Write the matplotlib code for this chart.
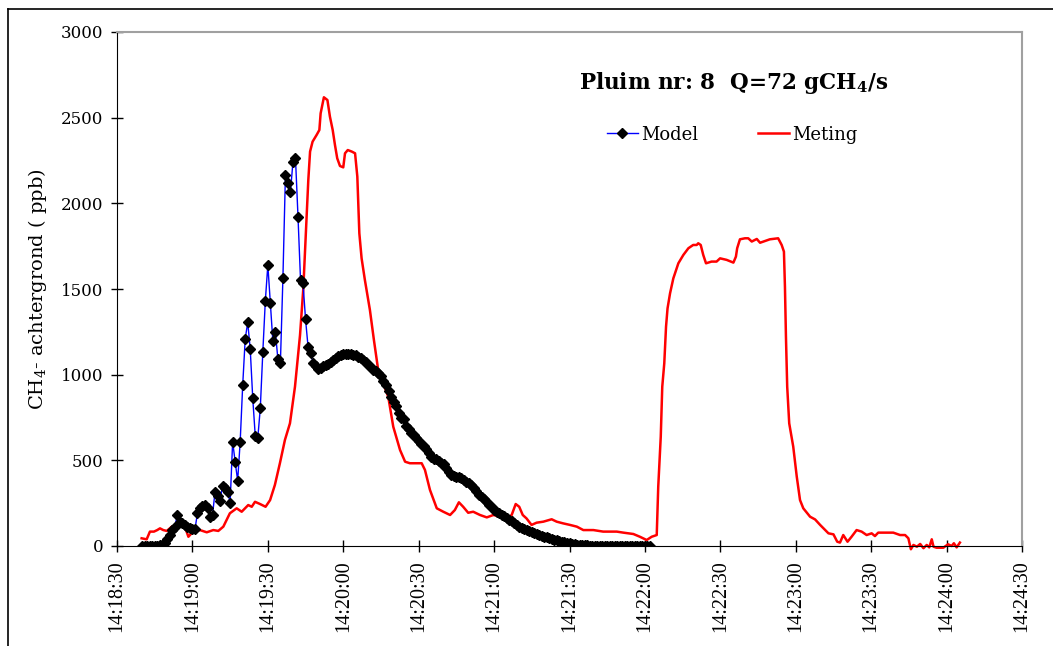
import matplotlib.pyplot as plt
from matplotlib.lines import Line2D
import numpy as np

plt.rcParams['mathtext.fontset'] = 'dejavuserif'

# seconds after 14:18:30
tick_secs = [0, 30, 60, 90, 120, 150, 180, 210, 240, 270, 300, 330, 360]
tick_labels = ['14:18:30', '14:19:00', '14:19:30', '14:20:00', '14:20:30', '14:21:00',
               '14:21:30', '14:22:00', '14:22:30', '14:23:00', '14:23:30', '14:24:00',
               '14:24:30']

# model: one value per second, starting 14:18:40
model_start = 10
model_vals = [
    0, 0, 0, 0, 0, 0, 0, 3, 5, 20,
    39, 64, 93, 113, 181, 142, 132, 121, 113, 107,
    100, 97, 191, 220, 233, 239, 220, 171, 181, 317,
    292, 263, 350, 337, 317, 253, 609, 492, 381, 609,
    938, 1208, 1306, 1148, 862, 642, 629, 804, 1131, 1430,
    1640, 1420, 1195, 1250, 1090, 1070, 1565, 2166, 2117, 2068,
    2243, 2263, 1922, 1553, 1533, 1323, 1163, 1125, 1070, 1050,
    1031, 1040, 1048, 1055, 1062, 1072, 1085, 1098, 1108, 1115,
    1118, 1120, 1120, 1118, 1115, 1112, 1105, 1095, 1085, 1072,
    1058, 1043, 1030, 1020, 1010, 995, 965, 940, 905, 870,
    842, 815, 778, 750, 740, 700, 680, 660, 645, 630,
    610, 598, 585, 565, 540, 520, 505, 505, 495, 485,
    478, 455, 430, 415, 410, 405, 400, 395, 385, 375,
    365, 355, 340, 320, 300, 288, 275, 258, 240, 225,
    212, 200, 192, 183, 178, 165, 152, 143, 135, 125,
    112, 104, 98, 92, 86, 80, 76, 72, 66, 60,
    55, 50, 45, 41, 37, 33, 29, 25, 22, 19,
    16, 13, 10, 8, 6, 5, 4, 3, 2, 1,
    1, 0, 0, 0, 0, 0, 0, 0, 0, 0,
    0, 0, 0, 0, 0, 0, 0, 0, 0, 0,
    0, 0, 0,
]

# measurement: seconds after 14:18:30 and ppb
meting_t = [
    9.8, 11.8, 13.1, 14.7, 16.0, 17.1, 18.4, 19.8, 21.8, 23.5,
    25.7, 27.0, 28.4, 30.3, 33.0, 35.7, 38.3, 40.3, 42.3, 44.9,
    47.6, 49.6, 52.2, 53.6, 54.9, 56.9, 59.1, 60.9, 62.8, 64.8,
    66.8, 68.8, 70.8, 72.8, 74.1, 75.2, 76.1, 76.8, 77.8, 79.4,
    80.5, 81.0, 82.3, 83.7, 84.7, 85.8, 86.7, 87.6, 88.7, 90.0,
    90.7, 91.8, 93.4, 94.7, 95.6, 96.4, 97.3, 98.6, 100.6, 102.2,
    103.9, 107.9, 109.9, 112.6, 114.6, 116.5, 119.2, 121.2, 122.5, 124.5,
    127.2, 129.8, 132.5, 134.4, 136.0, 137.7, 139.7, 141.7, 144.4, 147.1,
    149.7, 152.3, 155.0, 157.0, 158.6, 160.0, 161.4, 162.9, 164.9, 166.9,
    169.6, 172.9, 174.9, 177.5, 180.2, 182.9, 185.5, 189.5, 193.4, 198.8,
    201.4, 205.4, 208.0, 210.7, 212.7, 214.7, 215.3, 216.3, 216.9, 217.7,
    218.4, 219.0, 220.0, 221.3, 223.3, 225.3, 227.3, 229.2, 230.6, 231.2,
    232.2, 233.2, 234.3, 236.5, 238.5, 239.9, 242.5, 245.2, 246.2, 246.7,
    247.8, 249.8, 251.1, 252.5, 254.5, 255.8, 257.7, 259.7, 263.0, 264.4,
    265.3, 265.7, 266.1, 266.6, 267.4, 269.0, 270.4, 271.7, 273.0, 275.7,
    277.7, 279.7, 283.0, 285.0, 286.5, 287.6, 288.9, 290.6, 292.2, 294.2,
    296.2, 298.2, 300.2, 301.5, 302.8, 306.2, 308.8, 311.5, 313.5, 314.8,
    315.8, 316.8, 318.2, 319.5, 320.8, 322.1, 323.1, 324.1, 324.8, 326.0,
    328.7, 330.6, 332.0, 332.9, 334.0, 335.3,
]
meting_vals = [
    45, 39, 84, 84, 93, 103, 93, 88, 113, 93,
    148, 113, 54, 84, 93, 80, 93, 88, 113, 191,
    220, 200, 239, 229, 258, 245, 229, 268, 356, 483,
    619, 716, 930, 1230, 1500, 1844, 2136, 2302, 2360, 2399,
    2428, 2525, 2619, 2603, 2506, 2428, 2341, 2263, 2218, 2210,
    2292, 2311, 2302, 2292, 2156, 1825, 1679, 1553, 1378, 1202,
    1027, 871, 696, 560, 492, 483, 483, 483, 444, 327,
    220, 200, 181, 210, 255, 229, 194, 200, 181, 167,
    181, 171, 161, 181, 245, 229, 181, 161, 123, 136,
    142, 156, 142, 132, 123, 113, 93, 93, 84, 84,
    78, 70, 54, 35, 54, 64, 346, 638, 930, 1066,
    1280, 1387, 1475, 1562, 1650, 1699, 1738, 1757, 1757, 1767,
    1757, 1699, 1650, 1660, 1660, 1679, 1670, 1654, 1689, 1738,
    1790, 1796, 1796, 1777, 1792, 1770, 1780, 1790, 1796, 1757,
    1718, 1514, 1222, 930, 716, 580, 405, 268, 220, 171,
    155, 123, 74, 68, 25, 20, 64, 25, 54, 93,
    84, 64, 74, 58, 78, 78, 78, 64, 64, 45,
    -19, 6, -4, 12, -13, 6, -8, 39, -4, -10,
    -10, 10, 0, 16, -8, 20,
]

model_t = model_start + np.arange(len(model_vals))

fig = plt.figure(figsize=(10.53, 6.46), dpi=100)
ax = fig.add_axes([117 / 1053, 100 / 646, 905 / 1053, 514 / 646])

ax.plot(meting_t, meting_vals, color='#ff0000', lw=1.8, label='Meting', clip_on=False, zorder=2)
ax.plot(model_t, model_vals, color='#0000ff', lw=1.0, marker='D', markersize=5.5,
        markerfacecolor='black', markeredgecolor='black', label='Model', zorder=3)

ax.set_xlim(0, 360)
ax.set_ylim(0, 3000)
ax.set_xticks(tick_secs)
ax.set_xticklabels(tick_labels, rotation=90, fontfamily='Liberation Serif', fontsize=14.5)
ax.set_yticks(np.arange(0, 3001, 500))
for lab in ax.get_yticklabels():
    lab.set_fontfamily('DejaVu Serif')
    lab.set_fontsize(12)
ax.tick_params(direction='inout', length=8, width=1, colors='black', pad=6)

ax.spines['left'].set_color('black')
ax.spines['bottom'].set_color('black')
ax.spines['top'].set_color('#a0a0a0')
ax.spines['right'].set_color('#a0a0a0')
ax.spines['top'].set_linewidth(1.5)
ax.spines['right'].set_linewidth(1.5)

ax.set_ylabel(r'CH$_4$- achtergrond ( ppb)', fontfamily='DejaVu Serif', fontsize=14, labelpad=8)

ax.text(0.681, 0.9, r'Pluim nr: 8  Q=72 gCH$_\mathbf{4}$/s', transform=ax.transAxes,
        ha='center', va='center', fontfamily='DejaVu Serif', fontweight='bold', fontsize=15.5)

handles, labels = ax.get_legend_handles_labels()
ax.legend(handles[::-1], labels[::-1], ncol=2, frameon=False, loc='center',
          bbox_to_anchor=(0.68, 0.80), prop={'family': 'DejaVu Serif', 'size': 13},
          handlelength=1.7, handletextpad=0.2, columnspacing=3.3)

# outer frame, top and left edges
fig.add_artist(Line2D([8 / 1053, 8 / 1053], [0, 637 / 646], color='black', lw=1.2))
fig.add_artist(Line2D([8 / 1053, 1], [637 / 646, 637 / 646], color='black', lw=1.2))

fig.savefig('out.png', dpi=100)
